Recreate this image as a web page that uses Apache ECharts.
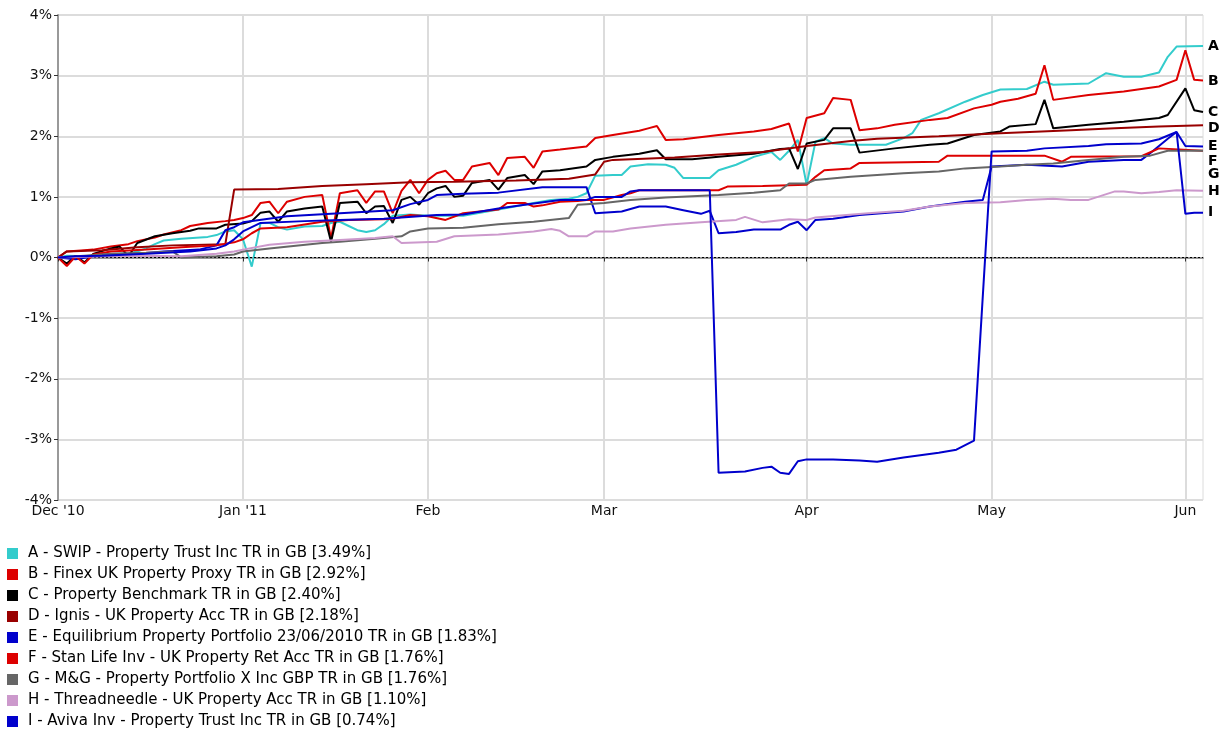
<!DOCTYPE html>
<html><head><meta charset="utf-8">
<script src="https://cdn.jsdelivr.net/npm/echarts@6/dist/echarts.min.js"></script>
<style>html,body{margin:0;padding:0;background:#fff}#c{width:1226px;height:736px}</style>
</head><body><div id="c"></div>
<script>
// ---- categories: trading (week) days shown on the x axis ----
const startDate = '2010-12-03';
const endDate = '2011-06-03';
// ---- tick labels at month starts ----
const monthLabels = {
  '2010-12-03': "Dec '10", '2011-01-03': "Jan '11", '2011-02-01': 'Feb',
  '2011-03-01': 'Mar', '2011-04-01': 'Apr', '2011-05-02': 'May', '2011-06-01': 'Jun'
};
const yTicks = [-4, -3, -2, -1, 0, 1, 2, 3, 4];

// ---- series (name, end letter) ----
const seriesNames = [
  'A - SWIP - Property Trust Inc TR in GB [3.49%]',
  'B - Finex UK Property Proxy TR in GB [2.92%]',
  'C - Property Benchmark TR in GB [2.40%]',
  'D - Ignis - UK Property Acc TR in GB [2.18%]',
  'E - Equilibrium Property Portfolio 23/06/2010 TR in GB [1.83%]',
  'F - Stan Life Inv - UK Property Ret Acc TR in GB [1.76%]',
  'G - M&G - Property Portfolio X Inc GBP TR in GB [1.76%]',
  'H - Threadneedle - UK Property Acc TR in GB [1.10%]',
  'I - Aviva Inv - Property Trust Inc TR in GB [0.74%]'
];
const seriesLetters = ['A','B','C','D','E','F','G','H','I'];

// ---- values: [trading-day index, cumulative return %] ----
const dataA = [[0,0],[1,0.03],[3,0.02],[5,0.05],[8,0.07],[9,0.1],[10,0.15],[11,0.22],[12,0.28],[14,0.31],[17,0.34],[18,0.37],[19,0.43],[20,0.45],[21,0.3],[22,-0.15],[23,0.57],[24,0.57],[25,0.5],[26,0.46],[28,0.51],[30,0.52],[31,0.57],[32,0.59],[33,0.52],[34,0.45],[35,0.42],[36,0.45],[37,0.55],[38,0.69],[40,0.71],[42,0.69],[46,0.69],[50,0.79],[54,0.9],[56,0.95],[58,0.97],[59,1.0],[60,1.06],[61,1.35],[63,1.36],[64,1.36],[65,1.5],[67,1.54],[69,1.53],[70,1.48],[71,1.31],[74,1.31],[75,1.44],[77,1.53],[79,1.66],[81,1.74],[82,1.61],[83,1.76],[84,1.94],[85,1.2],[86,1.91],[87,1.97],[88,1.88],[90,1.86],[94,1.86],[96,1.97],[97,2.05],[98,2.27],[100,2.38],[103,2.57],[105,2.68],[107,2.77],[110,2.78],[112,2.9],[113,2.85],[117,2.87],[119,3.04],[121,2.98],[123,2.98],[125,3.05],[126,3.31],[127,3.48],[130,3.49]];
const dataB = [[0,0],[1,0.1],[3,0.12],[4,0.13],[6,0.18],[8,0.22],[9,0.27],[11,0.33],[12,0.38],[14,0.45],[15,0.52],[17,0.57],[19,0.6],[20,0.62],[21,0.65],[22,0.7],[23,0.9],[24,0.92],[25,0.73],[26,0.92],[28,1.0],[30,1.03],[31,0.32],[32,1.06],[34,1.11],[35,0.9],[36,1.09],[37,1.09],[38,0.73],[39,1.1],[40,1.28],[41,1.06],[42,1.28],[43,1.39],[44,1.43],[45,1.28],[46,1.28],[47,1.5],[49,1.56],[50,1.36],[51,1.64],[53,1.66],[54,1.48],[55,1.75],[57,1.78],[60,1.83],[61,1.97],[63,2.02],[66,2.09],[67,2.13],[68,2.17],[69,1.94],[71,1.95],[75,2.02],[79,2.08],[81,2.12],[83,2.21],[84,1.75],[85,2.3],[87,2.38],[88,2.63],[90,2.6],[91,2.1],[93,2.13],[95,2.19],[99,2.27],[101,2.3],[104,2.46],[106,2.52],[107,2.57],[109,2.62],[111,2.7],[112,3.17],[113,2.6],[117,2.68],[121,2.74],[125,2.82],[127,2.93],[128,3.42],[129,2.93],[130,2.92]];
const dataC = [[0,0],[1,-0.1],[2,0.03],[3,-0.08],[4,0.06],[6,0.15],[7,0.18],[8,0.02],[9,0.24],[11,0.35],[13,0.4],[15,0.44],[16,0.48],[18,0.48],[19,0.54],[21,0.56],[22,0.6],[23,0.74],[24,0.76],[25,0.59],[26,0.76],[28,0.81],[30,0.84],[31,0.26],[32,0.9],[34,0.92],[35,0.73],[36,0.84],[37,0.85],[38,0.57],[39,0.95],[40,1.0],[41,0.87],[42,1.06],[43,1.14],[44,1.18],[45,1.0],[46,1.02],[47,1.23],[49,1.28],[50,1.12],[51,1.31],[53,1.36],[54,1.21],[55,1.42],[57,1.44],[60,1.5],[61,1.61],[63,1.66],[66,1.71],[68,1.77],[69,1.62],[72,1.62],[75,1.66],[79,1.71],[82,1.79],[83,1.8],[84,1.46],[85,1.88],[87,1.94],[88,2.13],[90,2.13],[91,1.73],[95,1.8],[99,1.86],[101,1.88],[104,2.02],[107,2.08],[108,2.16],[111,2.2],[112,2.6],[113,2.13],[117,2.19],[121,2.24],[125,2.3],[126,2.35],[128,2.79],[129,2.43],[130,2.4]];
const dataD = [[0,0],[1,0.1],[5,0.12],[9,0.17],[13,0.2],[19,0.22],[20,1.12],[25,1.13],[30,1.18],[35,1.21],[40,1.24],[45,1.25],[52,1.27],[58,1.3],[61,1.37],[62,1.58],[63,1.61],[70,1.65],[75,1.7],[80,1.74],[85,1.84],[90,1.92],[93,1.96],[100,2.0],[107,2.05],[115,2.1],[120,2.13],[125,2.16],[130,2.18]];
const dataE = [[0,0],[2,-0.03],[4,0.02],[8,0.05],[12,0.1],[16,0.13],[18,0.2],[19,0.45],[20,0.5],[21,0.58],[26,0.68],[32,0.73],[38,0.78],[40,0.88],[42,0.95],[43,1.03],[46,1.05],[50,1.07],[55,1.16],[60,1.16],[61,0.73],[64,0.76],[66,0.84],[69,0.84],[71,0.78],[73,0.72],[74,0.77],[75,0.4],[77,0.42],[79,0.46],[82,0.46],[83,0.54],[84,0.59],[85,0.45],[86,0.62],[88,0.64],[91,0.7],[96,0.76],[99,0.84],[103,0.92],[105,0.95],[106,1.5],[110,1.53],[114,1.5],[117,1.58],[121,1.61],[123,1.61],[124,1.72],[126,1.96],[127,2.07],[128,1.84],[130,1.83]];
const dataF = [[0,0],[1,-0.14],[2,0.02],[3,-0.1],[4,0.05],[6,0.1],[10,0.13],[14,0.17],[18,0.2],[20,0.25],[21,0.3],[22,0.4],[23,0.48],[26,0.5],[30,0.59],[33,0.62],[37,0.63],[38,0.64],[40,0.7],[42,0.68],[44,0.62],[46,0.73],[50,0.79],[51,0.9],[53,0.9],[54,0.84],[55,0.86],[57,0.92],[59,0.93],[60,0.95],[62,0.95],[64,1.03],[65,1.06],[66,1.11],[75,1.11],[76,1.17],[80,1.18],[85,1.2],[86,1.33],[87,1.44],[90,1.47],[91,1.56],[100,1.58],[101,1.68],[112,1.68],[114,1.58],[115,1.66],[123,1.67],[125,1.8],[130,1.76]];
const dataG = [[0,0],[3,0.03],[6,0.06],[10,0.08],[13,0.1],[14,0.0],[18,0.02],[20,0.05],[21,0.1],[24,0.15],[30,0.24],[32,0.26],[36,0.31],[39,0.35],[40,0.43],[42,0.48],[46,0.49],[50,0.55],[54,0.59],[58,0.65],[59,0.87],[60,0.88],[62,0.9],[65,0.95],[69,0.99],[75,1.03],[79,1.07],[82,1.11],[83,1.22],[85,1.22],[86,1.28],[90,1.33],[96,1.39],[100,1.42],[103,1.47],[107,1.5],[110,1.53],[113,1.55],[117,1.61],[121,1.66],[124,1.68],[126,1.76],[130,1.76]];
const dataH = [[0,0],[5,0.02],[10,0.03],[14,0.02],[18,0.06],[20,0.1],[21,0.13],[24,0.21],[28,0.26],[32,0.29],[36,0.32],[38,0.35],[39,0.24],[43,0.26],[45,0.35],[50,0.38],[54,0.43],[56,0.47],[57,0.44],[58,0.35],[60,0.35],[61,0.43],[63,0.43],[65,0.48],[69,0.54],[73,0.58],[77,0.62],[78,0.67],[80,0.58],[83,0.63],[85,0.62],[86,0.66],[92,0.73],[96,0.77],[99,0.84],[103,0.9],[107,0.91],[110,0.95],[113,0.97],[115,0.95],[117,0.95],[120,1.09],[121,1.09],[123,1.06],[125,1.08],[127,1.11],[130,1.1]];
const dataI = [[0,0],[2,0.02],[5,0.03],[10,0.06],[15,0.1],[18,0.15],[19,0.2],[20,0.3],[21,0.43],[23,0.57],[28,0.6],[32,0.62],[37,0.64],[43,0.7],[46,0.71],[50,0.81],[53,0.87],[57,0.95],[60,0.95],[61,1.0],[64,1.0],[65,1.09],[66,1.11],[74,1.11],[75,-3.55],[78,-3.53],[80,-3.47],[81,-3.45],[82,-3.55],[83,-3.57],[84,-3.36],[85,-3.33],[88,-3.33],[91,-3.35],[93,-3.37],[96,-3.3],[100,-3.22],[102,-3.17],[104,-3.02],[106,1.75],[110,1.76],[112,1.8],[117,1.84],[119,1.87],[123,1.88],[125,1.95],[127,2.07],[128,0.72],[129,0.74],[130,0.74]];
const seriesData = [dataA, dataB, dataC, dataD, dataE, dataF, dataG, dataH, dataI];

// ---- styles ----
const colors = ['#33cccc','#dd0000','#000000','#990000','#0000cc','#dd0000','#666666','#cc99cc','#0000cc'];
const endLabelShift = [0, 1, 0, 3, 0, 11, 24, 1, 0];
const FONT = 'DejaVu Sans';

// build weekday categories
const categories = [];
(function(){
  const d = new Date(startDate + 'T00:00:00Z');
  const e = new Date(endDate + 'T00:00:00Z');
  while (d <= e) {
    const wd = d.getUTCDay();
    if (wd !== 0 && wd !== 6) categories.push(d.toISOString().slice(0,10));
    d.setUTCDate(d.getUTCDate() + 1);
  }
})();
const isMonthTick = (idx, val) => Object.prototype.hasOwnProperty.call(monthLabels, val);

const chart = echarts.init(document.getElementById('c'), null, {renderer: 'canvas'});
const series = seriesNames.map((name, i) => ({
  name: name,
  type: 'line',
  data: seriesData[i],
  symbol: 'none',
  color: colors[i],
  lineStyle: {width: 2, color: colors[i]},
  z: 2 + i,
  endLabel: {
    show: true,
    formatter: seriesLetters[i],
    color: '#000', fontFamily: FONT, fontSize: 14, fontWeight: 'bold',
    distance: 5, offset: [0, endLabelShift[i]]
  }
}));
series.push({
  name: '__zero', type: 'line', data: [], silent: true,
  markLine: {
    silent: true, symbol: 'none', label: {show: false},
    lineStyle: {color: '#000', width: 1, type: [2, 2]},
    data: [{yAxis: 0}]
  }
});

chart.setOption({
  animation: false,
  backgroundColor: '#fff',
  textStyle: {fontFamily: FONT},
  grid: {left: 58, top: 15, right: 23, bottom: 236, show: true, borderColor: '#dcdcdc', borderWidth: 1},
  xAxis: {
    type: 'category', data: categories, boundaryGap: false,
    axisLine: {lineStyle: {color: '#999', width: 2}},
    axisTick: {show: true, interval: isMonthTick, length: 4, lineStyle: {color: '#333'}},
    axisLabel: {interval: isMonthTick, formatter: v => monthLabels[v] || '', color: '#111', fontSize: 14, margin: 4, fontFamily: FONT},
    splitLine: {show: true, interval: isMonthTick, lineStyle: {color: '#dcdcdc', width: 2}}
  },
  yAxis: {
    type: 'value', min: yTicks[0], max: yTicks[yTicks.length-1], interval: 1,
    axisLine: {show: true, lineStyle: {color: '#999', width: 2}},
    axisTick: {show: true, length: 4, lineStyle: {color: '#333'}},
    axisLabel: {formatter: '{value}%', color: '#111', fontSize: 14, margin: 6, fontFamily: FONT},
    splitLine: {lineStyle: {color: '#dcdcdc', width: 2}}
  },
  legend: {
    data: seriesNames,
    orient: 'vertical', left: 2, top: 541, height: 195,
    itemWidth: 11, itemHeight: 11, itemGap: 6, icon: 'rect',
    selectedMode: false,
    textStyle: {color: '#000', fontSize: 15, fontFamily: FONT, padding: [0, 0, 0, 5]}
  },
  series: series
});
</script>
</body></html>
